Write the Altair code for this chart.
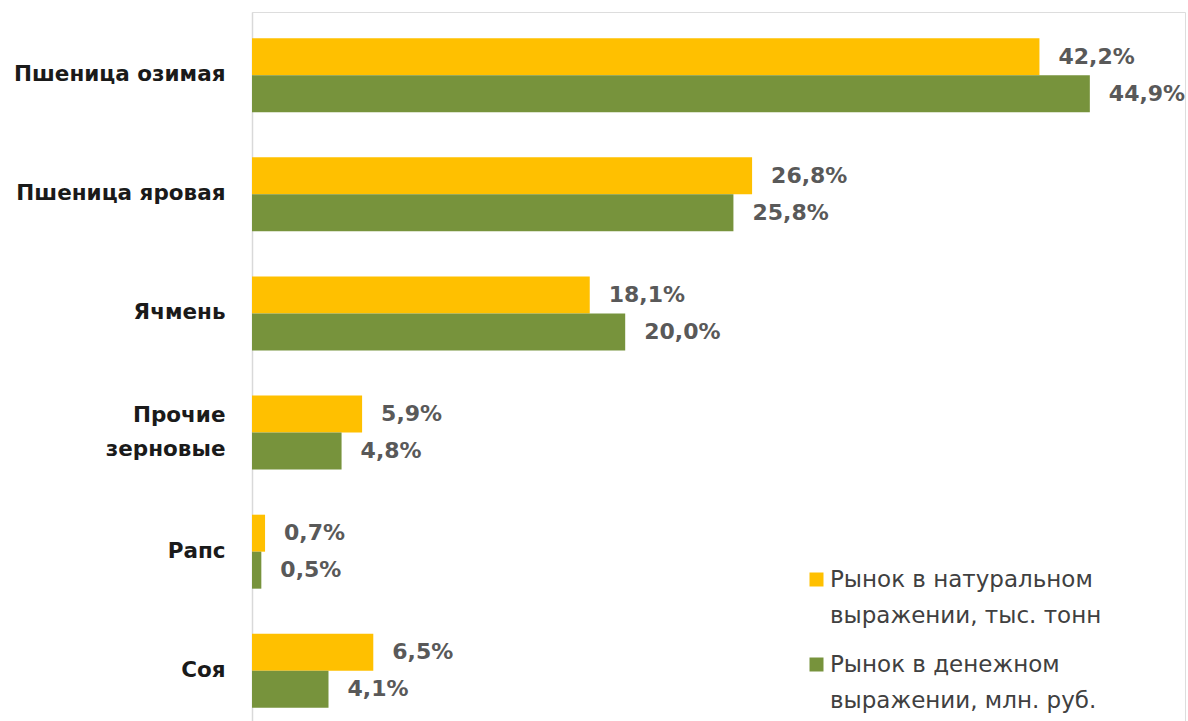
import altair as alt
import pandas as pd

categories = ["Пшеница озимая", "Пшеница яровая", "Ячмень", "Прочие\u00a0|зерновые", "Рапс", "Соя"]
series = ["Рынок в натуральном|выражении, тыс. тонн", "Рынок в денежном|выражении, млн. руб."]
natural = [42.2, 26.8, 18.1, 5.9, 0.7, 6.5]
money = [44.9, 25.8, 20.0, 4.8, 0.5, 4.1]
colors = ["#FFC000", "#77933C"]

rows = []
for i, c in enumerate(categories):
    rows.append({"cat": c, "series": series[0], "value": natural[i],
                 "label": f"{natural[i]:.1f}%".replace(".", ",")})
    rows.append({"cat": c, "series": series[1], "value": money[i],
                 "label": f"{money[i]:.1f}%".replace(".", ",")})
df = pd.DataFrame(rows)

font = "DejaVu Sans"

y = alt.Y("cat:N", sort=categories, title=None,
          scale=alt.Scale(paddingInner=0.379, paddingOuter=0.22, range=[0, 722]),
          axis=alt.Axis(labelExpr="split(datum.label, '|')", labelFont=font, labelFontSize=21.5,
                        labelFontWeight="bold", labelColor="#1a1a1a", labelPadding=27,
                        ticks=False, domainColor="#d9d9d9", domainWidth=1.5,
                        labelLineHeight=34, labelAlign="right", labelLimit=400,
                        labelOffset={"condition": {"test": "indexof(datum.label, '|') >= 0", "value": -17},
                                     "value": 0}))
yoff = alt.YOffset("series:N", sort=series)
x = alt.X("value:Q", title=None, scale=alt.Scale(domain=[0, 50]), axis=None)

bars = alt.Chart(df).mark_bar().encode(
    y=y, yOffset=yoff, x=x,
    color=alt.Color("series:N", sort=series,
                    scale=alt.Scale(domain=series, range=colors),
                    legend=alt.Legend(title=None, orient="none", legendX=553, legendY=556,
                                      labelExpr="split(datum.label, '|')",
                                      labelFont=font, labelFontSize=23, labelColor="#404040",
                                      symbolType="square", symbolSize=196, symbolStrokeWidth=0,
                                      symbolOpacity=1, rowPadding=25, labelOffset=2,
                                      labelLimit=500)),
)

texts = alt.Chart(df).mark_text(align="left", baseline="middle", dx=19, font=font,
                                fontSize=22, fontWeight="bold", color="#595959").encode(
    y=y, yOffset=yoff, x=x, text="label:N")

chart = (bars + texts).properties(
    width=933, height=709,
    autosize=alt.AutoSizeParams(type="none"),
    padding={"left": 252, "top": 12, "right": 3, "bottom": 0},
).configure_view(stroke=None).configure(
    background="white", style={"guide-label": {"lineHeight": 36}})

chart.save("out.html", embed_options={"renderer": "svg", "actions": False})
